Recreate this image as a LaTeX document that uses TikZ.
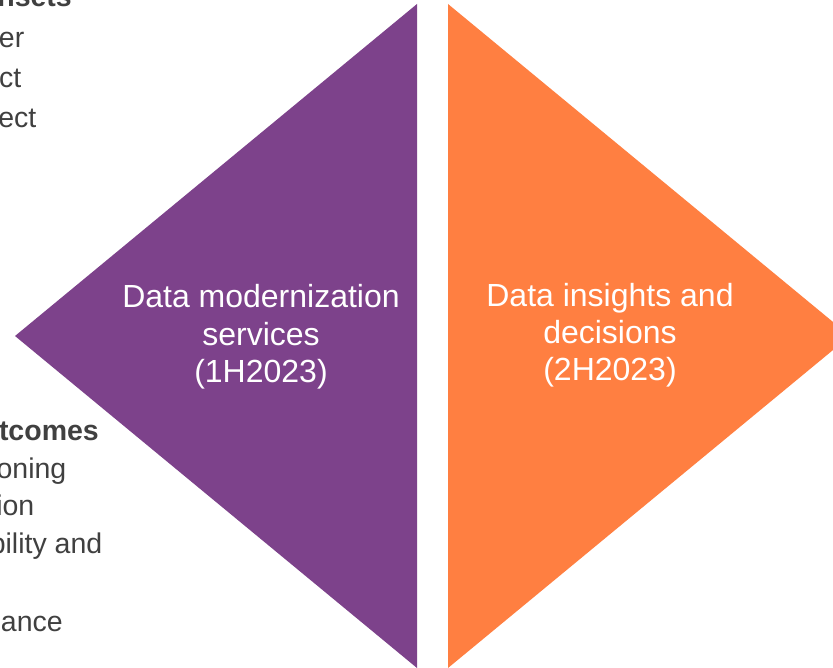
\documentclass[tikz,border=0pt]{standalone}
\usepackage{fontspec}
\setmainfont{Liberation Sans}
\definecolor{dmpurple}{RGB}{125,66,139}
\definecolor{diorange}{RGB}{255,127,65}
\definecolor{sidegray}{RGB}{64,64,64}
\begin{document}
\begin{tikzpicture}[x=1pt,y=-1pt,
  sidetext/.style={anchor=base east,inner sep=0pt,text=sidegray,font=\fontsize{28.5}{34}\selectfont},
  sidehead/.style={sidetext,font=\fontsize{28.5}{34}\selectfont\bfseries},
  centertext/.style={anchor=base,inner sep=0pt,text=white,font=\fontsize{32}{37}\selectfont}]
\useasboundingbox (0,0) rectangle (833,668);
% triangles
\fill[dmpurple] (417,4) -- (15,336) -- (417,668) -- cycle;
\fill[diorange] (448,4) -- (850,336) -- (448,668) -- cycle;
% left side text fragments (upper block)
\node[sidehead] (h1) at (72,7) {nsets};
\node[sidetext] (t1) at (24.5,48) {er};
\node[sidetext] (t2) at (21.5,88) {ct};
\node[sidetext] (t3) at (36.5,128) {ect};
% left side text fragments (lower block)
\node[sidehead] (h2) at (99,440) {tcomes};
\node[sidetext] (b1) at (66.5,478) {oning};
\node[sidetext] (b2) at (34.5,515) {ion};
\node[sidetext] (b3) at (102.5,553) {bility and};
\node[sidetext] (b4) at (63,631) {ance};
% purple labels
\node[centertext] (p1) at (261,308) {Data modernization};
\node[centertext] (p2) at (261,345) {services};
\node[centertext] (p3) at (261,382) {(1H2023)};
% orange labels
\node[centertext] (o1) at (610,307) {Data insights and};
\node[centertext] (o2) at (610,344) {decisions};
\node[centertext] (o3) at (610,381) {(2H2023)};
\end{tikzpicture}
\end{document}
